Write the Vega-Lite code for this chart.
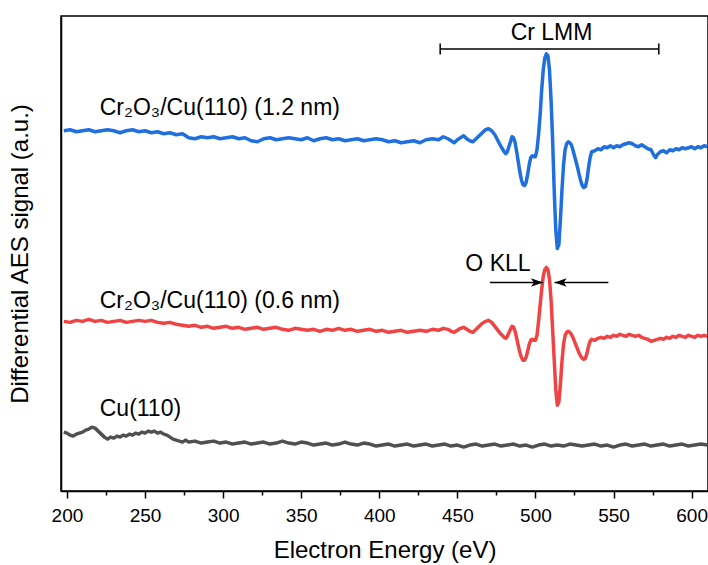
{
  "$schema": "https://vega.github.io/schema/vega-lite/v6.json",
  "width": 647,
  "height": 475,
  "autosize": "none",
  "padding": {"left": 61, "top": 16, "right": 0, "bottom": 74},
  "background": "white",
  "config": {
    "view": {"stroke": "black", "strokeWidth": 1.5},
    "font": "Liberation Sans",
    "axis": {"domainColor": "black", "domainWidth": 1.5, "tickColor": "black", "tickWidth": 1.5, "labelColor": "black", "titleColor": "black", "grid": false, "titleFontWeight": "normal", "titleFont": "Liberation Sans", "labelFont": "Liberation Sans"}
  },
  "datasets": {
    "blue": [
      {"E":198,"s":369},{"E":202,"s":370},{"E":206,"s":368},{"E":210,"s":369},{"E":214,"s":370},{"E":218,"s":368},{"E":222,"s":369},{"E":226,"s":370},{"E":230,"s":369},{"E":234,"s":367},{"E":238,"s":369},{"E":242,"s":370},{"E":246,"s":368},{"E":250,"s":369},{"E":254,"s":367},{"E":258,"s":368},{"E":262,"s":366},{"E":266,"s":367},{"E":270,"s":365},{"E":274,"s":366},{"E":278,"s":362},{"E":282,"s":361},{"E":286,"s":363},{"E":290,"s":362},{"E":294,"s":363},{"E":298,"s":361},{"E":302,"s":362},{"E":306,"s":363},{"E":310,"s":361},{"E":314,"s":362},{"E":318,"s":359},{"E":322,"s":358},{"E":326,"s":361},{"E":330,"s":362},{"E":334,"s":360},{"E":338,"s":361},{"E":342,"s":362},{"E":346,"s":361},{"E":350,"s":360},{"E":354,"s":362},{"E":358,"s":359},{"E":362,"s":361},{"E":366,"s":362},{"E":370,"s":360},{"E":374,"s":361},{"E":378,"s":359},{"E":382,"s":360},{"E":386,"s":361},{"E":390,"s":359},{"E":394,"s":360},{"E":398,"s":361},{"E":402,"s":360},{"E":406,"s":358},{"E":410,"s":359},{"E":414,"s":357},{"E":418,"s":358},{"E":422,"s":359},{"E":426,"s":357},{"E":430,"s":360},{"E":434,"s":361},{"E":438,"s":360},{"E":441,"s":363},{"E":444,"s":361},{"E":446,"s":359},{"E":448,"s":357},{"E":450,"s":360},{"E":452,"s":362},{"E":454,"s":364},{"E":456,"s":361},{"E":458,"s":359},{"E":460,"s":358},{"E":462,"s":361},{"E":464,"s":364},{"E":466,"s":367},{"E":468,"s":370},{"E":470,"s":371},{"E":472,"s":369},{"E":474,"s":365},{"E":476,"s":359},{"E":478,"s":353},{"E":480,"s":348},{"E":481,"s":346},{"E":482,"s":348},{"E":484,"s":358},{"E":485,"s":363},{"E":486,"s":362},{"E":487,"s":357},{"E":488,"s":348},{"E":489,"s":338},{"E":490,"s":328},{"E":491,"s":320},{"E":492,"s":315},{"E":493,"s":314},{"E":494,"s":317},{"E":495,"s":325},{"E":496,"s":335},{"E":497,"s":342},{"E":498,"s":344},{"E":499,"s":343},{"E":500,"s":343},{"E":501,"s":350},{"E":502,"s":365},{"E":503,"s":385},{"E":504,"s":410},{"E":505,"s":430},{"E":506,"s":442},{"E":507,"s":446},{"E":508,"s":444},{"E":509,"s":430},{"E":510,"s":400},{"E":511,"s":360},{"E":512,"s":310},{"E":513,"s":270},{"E":514,"s":251},{"E":515,"s":255},{"E":516,"s":280},{"E":517,"s":310},{"E":518,"s":335},{"E":519,"s":350},{"E":520,"s":356},{"E":521,"s":358},{"E":522,"s":357},{"E":523,"s":355},{"E":524,"s":350},{"E":525,"s":344},{"E":526,"s":338},{"E":527,"s":332},{"E":528,"s":325},{"E":529,"s":319},{"E":530,"s":314},{"E":531,"s":312},{"E":532,"s":313},{"E":533,"s":320},{"E":534,"s":332},{"E":535,"s":342},{"E":536,"s":348},{"E":538,"s":349},{"E":540,"s":351},{"E":542,"s":350},{"E":544,"s":353},{"E":546,"s":352},{"E":548,"s":354},{"E":550,"s":352},{"E":552,"s":354},{"E":554,"s":353},{"E":556,"s":355},{"E":558,"s":356},{"E":560,"s":357},{"E":562,"s":356},{"E":564,"s":354},{"E":566,"s":353},{"E":568,"s":355},{"E":570,"s":353},{"E":572,"s":351},{"E":574,"s":350},{"E":576,"s":344},{"E":577,"s":342},{"E":578,"s":345},{"E":580,"s":348},{"E":582,"s":349},{"E":584,"s":347},{"E":586,"s":350},{"E":588,"s":349},{"E":590,"s":351},{"E":592,"s":350},{"E":594,"s":352},{"E":596,"s":351},{"E":598,"s":352},{"E":600,"s":353},{"E":602,"s":351},{"E":604,"s":353},{"E":606,"s":352},{"E":608,"s":354},{"E":610,"s":353}
    ],
    "red": [
      {"E":198,"s":178},{"E":202,"s":177},{"E":206,"s":179},{"E":210,"s":178},{"E":214,"s":180},{"E":218,"s":178},{"E":222,"s":179},{"E":226,"s":177},{"E":230,"s":178},{"E":234,"s":179},{"E":238,"s":177},{"E":242,"s":178},{"E":246,"s":179},{"E":250,"s":178},{"E":254,"s":179},{"E":258,"s":177},{"E":262,"s":176},{"E":266,"s":177},{"E":270,"s":175},{"E":274,"s":174},{"E":278,"s":173},{"E":282,"s":174},{"E":286,"s":172},{"E":290,"s":173},{"E":294,"s":171},{"E":298,"s":172},{"E":302,"s":173},{"E":306,"s":171},{"E":310,"s":172},{"E":314,"s":170},{"E":318,"s":171},{"E":322,"s":172},{"E":326,"s":170},{"E":330,"s":171},{"E":334,"s":172},{"E":338,"s":170},{"E":342,"s":169},{"E":346,"s":171},{"E":350,"s":170},{"E":354,"s":169},{"E":358,"s":170},{"E":362,"s":168},{"E":366,"s":170},{"E":370,"s":169},{"E":374,"s":171},{"E":378,"s":169},{"E":382,"s":170},{"E":386,"s":168},{"E":390,"s":169},{"E":394,"s":170},{"E":398,"s":168},{"E":402,"s":169},{"E":406,"s":167},{"E":410,"s":168},{"E":414,"s":169},{"E":418,"s":167},{"E":422,"s":168},{"E":426,"s":169},{"E":430,"s":168},{"E":434,"s":170},{"E":438,"s":169},{"E":441,"s":171},{"E":444,"s":170},{"E":446,"s":168},{"E":448,"s":167},{"E":450,"s":169},{"E":452,"s":171},{"E":454,"s":172},{"E":456,"s":170},{"E":458,"s":168},{"E":460,"s":167},{"E":462,"s":170},{"E":464,"s":173},{"E":466,"s":176},{"E":468,"s":178},{"E":470,"s":179},{"E":472,"s":177},{"E":474,"s":173},{"E":476,"s":169},{"E":478,"s":165},{"E":480,"s":162},{"E":481,"s":161},{"E":482,"s":163},{"E":484,"s":170},{"E":485,"s":173},{"E":486,"s":172},{"E":487,"s":168},{"E":488,"s":161},{"E":489,"s":154},{"E":490,"s":147},{"E":491,"s":142},{"E":492,"s":139},{"E":493,"s":139},{"E":494,"s":142},{"E":495,"s":148},{"E":496,"s":155},{"E":497,"s":159},{"E":498,"s":160},{"E":499,"s":159},{"E":500,"s":159},{"E":501,"s":164},{"E":502,"s":178},{"E":503,"s":194},{"E":504,"s":210},{"E":505,"s":223},{"E":506,"s":230},{"E":507,"s":232},{"E":508,"s":230},{"E":509,"s":220},{"E":510,"s":200},{"E":511,"s":170},{"E":512,"s":140},{"E":513,"s":110},{"E":514,"s":94},{"E":515,"s":97},{"E":516,"s":115},{"E":517,"s":138},{"E":518,"s":155},{"E":519,"s":164},{"E":520,"s":167},{"E":521,"s":168},{"E":522,"s":167},{"E":523,"s":165},{"E":524,"s":162},{"E":525,"s":158},{"E":526,"s":154},{"E":527,"s":150},{"E":528,"s":146},{"E":529,"s":143},{"E":530,"s":141},{"E":531,"s":140},{"E":532,"s":141},{"E":533,"s":146},{"E":534,"s":153},{"E":535,"s":158},{"E":536,"s":160},{"E":538,"s":159},{"E":540,"s":161},{"E":542,"s":162},{"E":544,"s":161},{"E":546,"s":163},{"E":548,"s":162},{"E":550,"s":164},{"E":552,"s":163},{"E":554,"s":165},{"E":556,"s":164},{"E":558,"s":163},{"E":560,"s":165},{"E":562,"s":164},{"E":564,"s":163},{"E":566,"s":164},{"E":568,"s":162},{"E":570,"s":161},{"E":572,"s":160},{"E":574,"s":158},{"E":576,"s":159},{"E":578,"s":160},{"E":580,"s":161},{"E":582,"s":160},{"E":584,"s":162},{"E":586,"s":161},{"E":588,"s":163},{"E":590,"s":162},{"E":592,"s":164},{"E":594,"s":163},{"E":596,"s":162},{"E":598,"s":164},{"E":600,"s":163},{"E":602,"s":162},{"E":604,"s":164},{"E":606,"s":163},{"E":608,"s":164},{"E":610,"s":163}
    ],
    "gray": [
      {"E":198,"s":67},{"E":200,"s":66},{"E":202,"s":64},{"E":204,"s":63},{"E":206,"s":65},{"E":208,"s":66},{"E":210,"s":67},{"E":212,"s":69},{"E":214,"s":70},{"E":216,"s":72},{"E":218,"s":71},{"E":220,"s":68},{"E":222,"s":65},{"E":224,"s":62},{"E":226,"s":60},{"E":228,"s":62},{"E":230,"s":61},{"E":232,"s":63},{"E":234,"s":62},{"E":236,"s":64},{"E":238,"s":63},{"E":240,"s":65},{"E":242,"s":64},{"E":244,"s":66},{"E":246,"s":65},{"E":248,"s":67},{"E":250,"s":66},{"E":252,"s":68},{"E":254,"s":67},{"E":256,"s":68},{"E":258,"s":66},{"E":260,"s":67},{"E":262,"s":65},{"E":264,"s":64},{"E":266,"s":62},{"E":268,"s":60},{"E":270,"s":59},{"E":272,"s":58},{"E":274,"s":57},{"E":276,"s":59},{"E":278,"s":57},{"E":282,"s":58},{"E":286,"s":56},{"E":290,"s":57},{"E":294,"s":58},{"E":298,"s":56},{"E":302,"s":57},{"E":306,"s":55},{"E":310,"s":56},{"E":314,"s":57},{"E":318,"s":55},{"E":322,"s":56},{"E":326,"s":57},{"E":330,"s":55},{"E":334,"s":56},{"E":338,"s":58},{"E":342,"s":56},{"E":346,"s":55},{"E":350,"s":57},{"E":354,"s":56},{"E":358,"s":54},{"E":362,"s":55},{"E":366,"s":56},{"E":370,"s":54},{"E":374,"s":55},{"E":378,"s":57},{"E":382,"s":55},{"E":386,"s":54},{"E":390,"s":56},{"E":394,"s":55},{"E":398,"s":53},{"E":402,"s":54},{"E":406,"s":55},{"E":410,"s":53},{"E":414,"s":54},{"E":418,"s":55},{"E":422,"s":53},{"E":426,"s":54},{"E":430,"s":55},{"E":434,"s":53},{"E":438,"s":54},{"E":442,"s":55},{"E":446,"s":53},{"E":450,"s":54},{"E":454,"s":52},{"E":458,"s":54},{"E":462,"s":55},{"E":466,"s":53},{"E":470,"s":54},{"E":474,"s":55},{"E":478,"s":53},{"E":482,"s":54},{"E":486,"s":55},{"E":490,"s":53},{"E":494,"s":54},{"E":498,"s":52},{"E":502,"s":54},{"E":506,"s":55},{"E":510,"s":53},{"E":514,"s":54},{"E":518,"s":53},{"E":522,"s":55},{"E":526,"s":54},{"E":530,"s":53},{"E":534,"s":54},{"E":538,"s":55},{"E":542,"s":53},{"E":546,"s":54},{"E":550,"s":52},{"E":554,"s":54},{"E":558,"s":55},{"E":562,"s":53},{"E":566,"s":54},{"E":570,"s":55},{"E":574,"s":53},{"E":578,"s":54},{"E":582,"s":55},{"E":586,"s":53},{"E":590,"s":54},{"E":594,"s":55},{"E":598,"s":53},{"E":602,"s":54},{"E":606,"s":55},{"E":610,"s":54}
    ],
    "sampleLabels": [
      {"E":221,"s":392,"text":"Cr₂O₃/Cu(110) (1.2 nm)"},
      {"E":221,"s":198,"text":"Cr₂O₃/Cu(110) (0.6 nm)"},
      {"E":221,"s":90,"text":"Cu(110)"}
    ],
    "peakLabels": [
      {"E":510.3,"s":467,"text":"Cr LMM"},
      {"E":476,"s":235,"text":"O KLL"}
    ],
    "bracket": [{"E":439,"E2":579,"s":451}],
    "caps": [{"E":439,"s":445.5,"s2":456.5},{"E":579,"s":445.5,"s2":456.5}],
    "arrows": [{"E":470.8,"E2":504.8,"s":217},{"E":546.7,"E2":512.3,"s":217}],
    "heads": [
      {"E":504.8,"s":217,"shape":"M0,0L-1,-0.35L-0.75,0L-1,0.35Z"},
      {"E":512.3,"s":217,"shape":"M0,0L1,-0.35L0.75,0L1,0.35Z"}
    ]
  },
  "layer": [
    {
      "data": {"name": "gray"},
      "mark": {"type": "line", "color": "#505050", "strokeWidth": 3.5, "strokeJoin": "round"},
      "encoding": {
        "x": {"field": "E", "type": "quantitative", "scale": {"domain": [196.2, 610.5], "nice": false, "zero": false},
          "axis": {"title": "Electron Energy (eV)", "values": [200,225,250,275,300,325,350,375,400,425,450,475,500,525,550,575,600], "labelExpr": "datum.value % 50 === 0 ? datum.label : ''", "labelOverlap": false, "labelFontSize": 19, "titleFontSize": 24, "tickSize": {"condition": {"test": "datum.value % 50 === 0", "value": 7}, "value": 4}, "labelPadding": 8, "titlePadding": 13}},
        "y": {"field": "s", "type": "quantitative", "scale": {"domain": [8, 484], "nice": false, "zero": false},
          "axis": {"title": "Differential AES signal (a.u.)", "ticks": false, "labels": false, "titleFontSize": 24, "titlePadding": 29}}
      }
    },
    {
      "data": {"name": "red"},
      "mark": {"type": "line", "color": "#f04444", "strokeWidth": 3.5, "strokeJoin": "round"},
      "encoding": {"x": {"field": "E", "type": "quantitative"}, "y": {"field": "s", "type": "quantitative"}}
    },
    {
      "data": {"name": "blue"},
      "mark": {"type": "line", "color": "#1f6fdf", "strokeWidth": 3.5, "strokeJoin": "round"},
      "encoding": {"x": {"field": "E", "type": "quantitative"}, "y": {"field": "s", "type": "quantitative"}}
    },
    {
      "data": {"name": "sampleLabels"},
      "mark": {"type": "text", "fontSize": 23, "align": "left", "baseline": "middle", "color": "black", "font": "Liberation Sans"},
      "encoding": {
        "x": {"field": "E", "type": "quantitative"},
        "y": {"field": "s", "type": "quantitative"},
        "text": {"field": "text"}
      }
    },
    {
      "data": {"name": "peakLabels"},
      "mark": {"type": "text", "fontSize": 23, "align": "center", "baseline": "middle", "color": "black", "font": "Liberation Sans"},
      "encoding": {
        "x": {"field": "E", "type": "quantitative"},
        "y": {"field": "s", "type": "quantitative"},
        "text": {"field": "text"}
      }
    },
    {
      "data": {"name": "bracket"},
      "mark": {"type": "rule", "color": "black", "strokeWidth": 1.5},
      "encoding": {"x": {"field": "E", "type": "quantitative"}, "x2": {"field": "E2"}, "y": {"field": "s", "type": "quantitative"}}
    },
    {
      "data": {"name": "caps"},
      "mark": {"type": "rule", "color": "black", "strokeWidth": 1.5},
      "encoding": {"x": {"field": "E", "type": "quantitative"}, "y": {"field": "s", "type": "quantitative"}, "y2": {"field": "s2"}}
    },
    {
      "data": {"name": "arrows"},
      "mark": {"type": "rule", "color": "black", "strokeWidth": 1.5},
      "encoding": {"x": {"field": "E", "type": "quantitative"}, "x2": {"field": "E2"}, "y": {"field": "s", "type": "quantitative"}}
    },
    {
      "data": {"name": "heads"},
      "mark": {"type": "point", "filled": true, "color": "black", "size": 576, "opacity": 1},
      "encoding": {"x": {"field": "E", "type": "quantitative"}, "y": {"field": "s", "type": "quantitative"}, "shape": {"field": "shape", "type": "nominal", "scale": null}}
    }
  ]
}
